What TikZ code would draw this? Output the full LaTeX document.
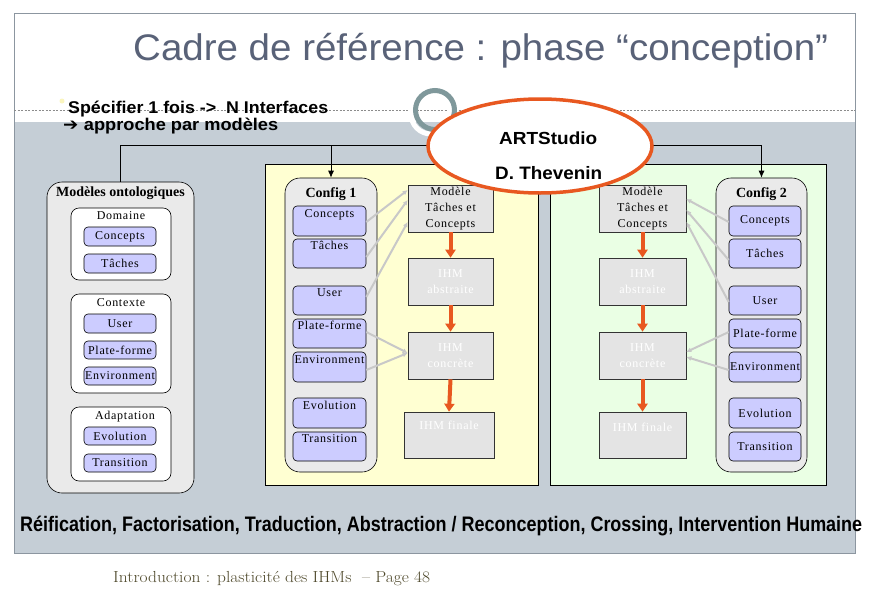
\documentclass[tikz,border=0pt]{standalone}
\usepackage{fontspec}
\usepackage{graphicx}
\usetikzlibrary{arrows.meta,calc,shapes.geometric}
\newfontfamily\tnr[LetterSpace=6]{Liberation Serif}
\newfontfamily\tnrb{Liberation Serif}
\newfontfamily\ars{Liberation Sans}
\newfontfamily\djv{DejaVu Sans}
\newcommand\fitw[2]{\resizebox{#1pt}{\height}{#2}}
\definecolor{slidegrey}{RGB}{197,206,214}
\definecolor{framec}{RGB}{140,150,160}
\definecolor{titlec}{RGB}{89,98,120}
\definecolor{lavc}{RGB}{204,204,255}
\definecolor{boxg}{RGB}{234,234,234}
\definecolor{mboxg}{RGB}{228,228,228}
\definecolor{yelc}{RGB}{255,255,210}
\definecolor{grnc}{RGB}{234,255,228}
\definecolor{conng}{RGB}{200,200,200}
\definecolor{orng}{RGB}{232,88,32}
\definecolor{ringc}{RGB}{127,152,155}
\definecolor{footc}{RGB}{78,72,42}
\definecolor{bulletc}{RGB}{250,245,190}
\begin{document}
\begin{tikzpicture}[x=1pt,y=-1pt,
  lav/.style={draw=black, fill=lavc, rounded corners=4pt, line width=0.6pt, inner sep=0pt,
    minimum width=72pt, minimum height=19pt, font=\tnr\fontsize{12}{14}\selectfont},
  wbox/.style={draw=black, fill=white, rounded corners=8pt, line width=0.6pt, inner sep=0pt, minimum width=100pt},
  outerbox/.style={draw=black, fill=boxg, rounded corners=15pt, line width=0.6pt, inner sep=0pt},
  cont/.style={draw=black, line width=0.6pt, inner sep=0pt, minimum height=321pt},
  mbox/.style={draw=black!80, fill=mboxg, line width=0.6pt, inner sep=0pt, align=center,
    minimum height=47pt, font=\tnr\fontsize{12}{16}\selectfont},
  ihm/.style={mbox, text=white},
  toptxt/.style={text height=7pt, text depth=15pt},
  boxlabel/.style={anchor=base, inner sep=0pt, font=\tnr\fontsize{12}{14}\selectfont},
  cfglabel/.style={anchor=base, inner sep=0pt, font=\tnrb\bfseries\fontsize{14}{16}\selectfont},
  gcon/.style={draw=conng, line width=2pt, -{Latex[length=5pt,width=5pt]}},
  oarr/.style={draw=orng, line width=4pt, -{Triangle[length=8pt,width=10pt,fill=orng]}},
  busline/.style={draw=black, line width=0.8pt},
  busarr/.style={busline, -{Latex[length=7pt,width=6pt]}},
  plain/.style={anchor=base west, inner sep=0pt}
]
\useasboundingbox (0,0) rectangle (870,600);
\fill[white] (0,0) rectangle (870,600);
\fill[slidegrey] (14,122) rectangle (855,553);
\draw[framec, line width=0.8pt] (14,13) rectangle (855,553);
\draw[black!45, line width=0.6pt, dash pattern=on 2pt off 1.5pt] (14,110) -- (855,110);

% title and header texts
\node[plain, text=titlec] (title) at (133,60)
  {\fitw{695}{\ars\fontsize{37}{40}\selectfont Cadre de référence : phase “conception”}};
\fill[bulletc] (62,101) circle (2.5pt);
\node[plain] (spec) at (68,113)
  {\fitw{260}{\ars\bfseries\fontsize{17}{19}\selectfont Spécifier 1 fois ->\ \ N Interfaces}};
\node[plain] (appr) at (63,130)
  {\fitw{215}{\fontsize{17}{19}\selectfont{\djv ➔}\ {\ars\bfseries approche par modèles}}};

% containers
\node[cont, fill=yelc, minimum width=273pt] (yel) at (401.5,324.5) {};
\node[cont, fill=grnc, minimum width=276pt] (grn) at (688,324.5) {};

% ontological models
\node[outerbox, minimum width=147pt, minimum height=311pt,
  label={[cfglabel, yshift=-15pt]north:Modèles ontologiques}] (mo) at (120.5,337.5) {};
\node[wbox, minimum height=72pt, label={[boxlabel, yshift=-12pt]north:Domaine}] (dom) at (121,244) {};
\node[lav] (ocon) at (120,236.5) {Concepts};
\node[lav] (otac) at (120,263.5) {Tâches};
\node[wbox, minimum height=99pt, label={[boxlabel, yshift=-13pt]north:Contexte}] (ctx) at (121,343.5) {};
\node[lav] (ousr) at (120,323.5) {User};
\node[lav, minimum height=18pt] (opla) at (120,350) {Plate-forme};
\node[lav, minimum height=18pt] (oenv) at (120,376) {Environment};
\node[wbox, minimum height=74pt, label={[boxlabel, yshift=-13pt, xshift=4pt]north:Adaptation}] (adp) at (121,444) {};
\node[lav, minimum height=18pt] (oevo) at (120,436) {Evolution};
\node[lav, minimum height=18pt] (otra) at (120,463) {Transition};

% config 1
\node[outerbox, minimum width=92pt, minimum height=294pt,
  label={[cfglabel, yshift=-20pt]north:Config 1}] (c1) at (331,325) {};
\node[lav, toptxt, minimum width=73pt, minimum height=30pt] (c1con) at (329.5,221) {Concepts};
\node[lav, toptxt, minimum width=73pt, minimum height=29pt] (c1tac) at (329.5,253.5) {Tâches};
\node[lav, toptxt, minimum width=73pt, minimum height=29pt] (c1usr) at (329.5,300.5) {User};
\node[lav, toptxt, minimum width=73pt, minimum height=29pt] (c1pla) at (329.5,333.5) {Plate-forme};
\node[lav, toptxt, minimum width=73pt, minimum height=30pt] (c1env) at (329.5,367) {Environment};
\node[lav, toptxt, minimum width=73pt, minimum height=30pt] (c1evo) at (329.5,413) {Evolution};
\node[lav, toptxt, minimum width=73pt, minimum height=29pt] (c1tra) at (329.5,446.5) {Transition};

% left model chain
\node[mbox, minimum width=85pt] (m1) at (450.5,208.5) {Modèle\\Tâches et\\Concepts};
\node[ihm, minimum width=85pt] (a1) at (450.5,281.5) {IHM\\abstraite};
\node[ihm, minimum width=85pt] (k1) at (450.5,355.5) {IHM\\concrète};
\node[ihm, minimum width=90pt, minimum height=46pt, text height=8pt, text depth=20pt] (f1) at (449,435) {IHM finale};

% right model chain
\node[mbox, minimum width=87pt] (m2) at (642.5,208.5) {Modèle\\Tâches et\\Concepts};
\node[ihm, minimum width=87pt] (a2) at (642.5,281.5) {IHM\\abstraite};
\node[ihm, minimum width=87pt] (k2) at (642.5,355.5) {IHM\\concrète};
\node[ihm, minimum width=87pt, minimum height=46pt, text height=8pt, text depth=16pt] (f2) at (642.5,435) {IHM finale};

% config 2
\node[outerbox, minimum width=91pt, minimum height=294pt,
  label={[cfglabel, yshift=-20pt]north:Config 2}] (c2) at (761.5,325) {};
\node[lav, minimum height=30pt] (c2con) at (765,221) {Concepts};
\node[lav, minimum height=29pt] (c2tac) at (765,253.5) {Tâches};
\node[lav, minimum height=29pt] (c2usr) at (765,300.5) {User};
\node[lav, minimum height=29pt] (c2pla) at (765,333.5) {Plate-forme};
\node[lav, minimum height=30pt] (c2env) at (765,367) {Environment};
\node[lav, minimum height=30pt] (c2evo) at (765,413) {Evolution};
\node[lav, minimum height=29pt] (c2tra) at (765,446.5) {Transition};

% grey connectors left
\draw[gcon] (c1con.east |- 0,222) -- (m1.west |- 0,190);
\draw[gcon] (c1tac.east |- 0,257) -- (m1.west |- 0,200);
\draw[gcon] (c1usr.east |- 0,297) -- (m1.west |- 0,222);
\draw[gcon] (c1pla.east |- 0,332) -- (k1.west |- 0,353);
\draw[gcon] (c1env.east |- 0,370) -- (k1.west |- 0,353);
% grey connectors right
\draw[gcon] (c2con.west |- 0,222) -- (m2.east |- 0,199);
\draw[gcon] (c2tac.west |- 0,260) -- (m2.east |- 0,210);
\draw[gcon] (c2usr.west |- 0,302) -- (m2.east |- 0,222);
\draw[gcon] (c2pla.west |- 0,332) -- (k2.east |- 0,352);
\draw[gcon] (c2env.west |- 0,370) -- (k2.east |- 0,357);

% orange arrows
\draw[oarr] (m1.south) -- (a1.north);
\draw[oarr] (a1.south) -- (k1.north);
\draw[oarr] (k1.south) -- (f1.north);
\draw[oarr] (m2.south) -- (a2.north);
\draw[oarr] (a2.south) -- (k2.north);
\draw[oarr] (k2.south) -- (f2.north);

% bus
\coordinate (bus) at (0,145);
\draw[busline] (mo.north) |- (c2.north |- bus);
\draw[busarr] (c1.north |- bus) -- (c1.north);
\draw[busarr] (c2.north |- bus) -- (c2.north);

% ring and bubble
\draw[white, line width=5pt] (431,114) circle (20pt);
\draw[ringc, line width=5pt] (435,110) circle (19.5pt);
\node[ellipse, draw=orng, line width=3.5pt, fill=white, inner sep=0pt,
  minimum width=224pt, minimum height=94pt] (bubble) at (540,146) {};
\node[plain] (art) at (499,144) {\fitw{98}{\ars\bfseries\fontsize{17.5}{20}\selectfont ARTStudio}};
\node[plain] (thev) at (495,179) {\fitw{107}{\ars\bfseries\fontsize{18}{20}\selectfont D. Thevenin}};

% bottom texts
\node[plain] (ops) at (20,531)
  {\fitw{842}{\ars\bfseries\fontsize{21}{24}\selectfont Réification, Factorisation, Traduction, Abstraction / Reconception, Crossing, Intervention Humaine}};
\node[plain, text=footc] (footer) at (113,582)
  {\fitw{317}{\fontsize{16}{18}\selectfont Introduction : plasticité des IHMs\ \ – Page \oldstylenums{48}}};
\end{tikzpicture}
\end{document}
